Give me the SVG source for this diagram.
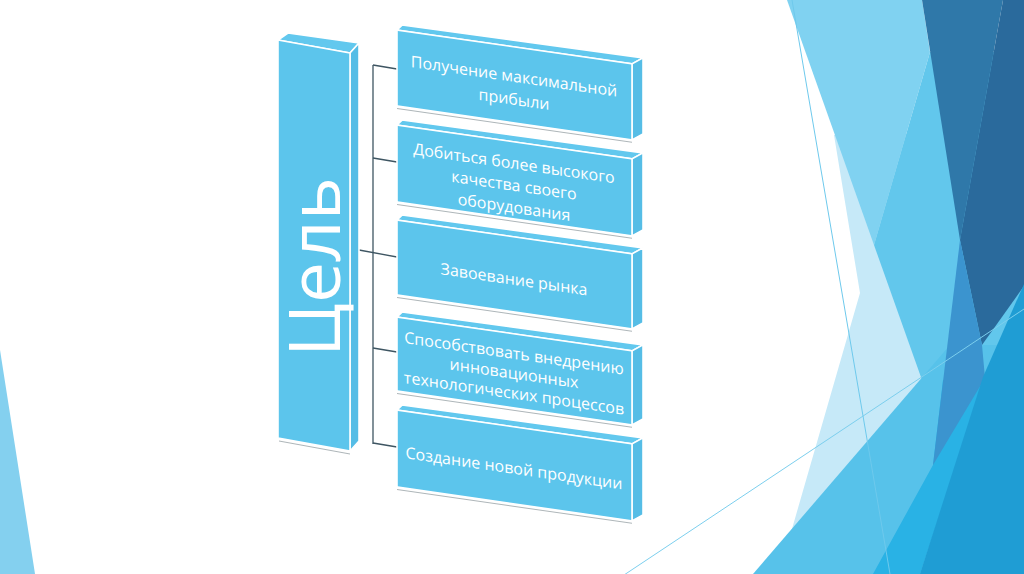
<svg xmlns="http://www.w3.org/2000/svg" width="1024" height="574" viewBox="0 0 1024 574">
<style>
.front{fill:#5cc5ec;stroke:#fff;stroke-width:1.6;stroke-linejoin:round}
.top{fill:#62c8ee;stroke:#fff;stroke-width:1.6;stroke-linejoin:round}
.side{fill:#55bde6;stroke:#fff;stroke-width:1.6;stroke-linejoin:round}
.shadow{stroke:#9aa4a8;stroke-width:1;opacity:0.8}
.lbl{font-family:"Open Sans","Noto Sans",sans-serif;font-size:16px;fill:#fff;text-anchor:middle}
.conn{stroke:#3e5562;stroke-width:1.3;fill:none}
</style>
<rect width="1024" height="574" fill="#fff"/>
<g id="background">
  <polygon points="0,350 35,574 0,574" fill="#84d0ef"/>
  <polygon points="834,135 860,293 779,574 1024,574 1024,135" fill="#c6e9f8"/>
  <polygon points="787,0 922,0 930,52 874,245" fill="#80d2f1"/>
  <polygon points="930,52 874,245 922,380 1024,380 1024,52" fill="#62c7ec"/>
  <polygon points="753,574 950,345 1024,345 1024,574" fill="#57c2ea"/>
  <polygon points="922,0 1003,0 960,240" fill="#2f78a9"/>
  <polygon points="1003,0 1024,0 1024,286 982,345 960,240" fill="#2a6a9c"/>
  <polygon points="873,574 933,465 943,380 985,378 920,574" fill="#29b2e5"/>
  <polygon points="960,240 982,345 985,378 933,465 948,340" fill="#3b94cf"/>
  <polygon points="1024,284 983,377 920,574 1024,574" fill="#1f9dd4"/>
  <line x1="792" y1="0" x2="890" y2="574" stroke="#6ec9ec" stroke-width="1"/>
  <line x1="624" y1="575" x2="1024" y2="309" stroke="#7ccfee" stroke-width="1"/>
</g>
<g id="connectors">
  <line class="conn" x1="373" y1="65" x2="373" y2="444"/>
  <line class="conn" x1="373" y1="65" x2="397" y2="69"/>
  <line class="conn" x1="373" y1="158" x2="397" y2="162"/>
  <line class="conn" x1="359" y1="250" x2="397" y2="257"/>
  <line class="conn" x1="373" y1="348" x2="397" y2="352"/>
  <line class="conn" x1="373" y1="443" x2="397" y2="447"/>
</g>
<g id="goal">
  <polygon class="top" points="278,40 288,33 359,43 350,53"/>
  <polygon class="side" points="350,53 359,43 359,441 350,451"/>
  <polygon class="front" points="278,40 350,53 350,451 278,438"/>
  <line class="shadow" x1="279" y1="441" x2="350" y2="454"/>
  <text transform="translate(340,267) rotate(-90)" x="0" y="0" style="font-family:'Open Sans','Noto Sans',sans-serif;font-size:72px;fill:#fff;text-anchor:middle" textLength="180" lengthAdjust="spacingAndGlyphs">Цель</text>
</g>
<g transform="translate(397,0) skewY(8.2)">
  <g id="box1">
    <polygon class="top" points="0,30 5,24.3 246,22.4 235,30"/>
    <polygon class="side" points="235,30 246,22.4 246,98.4 235,106"/>
    <rect class="front" x="0" y="30" width="235" height="76"/>
    <line class="shadow" x1="0" y1="108.5" x2="235" y2="108.5"/>
    <text class="lbl" x="117" y="65">Получение максимальной</text>
    <text class="lbl" x="117" y="88">прибыли</text>
  </g>
  <g id="box2">
    <polygon class="top" points="0,125 5,119.3 246,117.4 235,125"/>
    <polygon class="side" points="235,125 246,117.4 246,194.4 235,202"/>
    <rect class="front" x="0" y="125" width="235" height="77"/>
    <line class="shadow" x1="0" y1="204.5" x2="235" y2="204.5"/>
    <text class="lbl" x="117" y="152">Добиться более высокого</text>
    <text class="lbl" x="117" y="174">качества своего</text>
    <text class="lbl" x="117" y="196">оборудования</text>
  </g>
  <g id="box3">
    <polygon class="top" points="0,220 5,214.3 246,212.4 235,220"/>
    <polygon class="side" points="235,220 246,212.4 246,287.4 235,295"/>
    <rect class="front" x="0" y="220" width="235" height="75"/>
    <line class="shadow" x1="0" y1="297.5" x2="235" y2="297.5"/>
    <text class="lbl" x="117" y="268">Завоевание рынка</text>
  </g>
  <g id="box4">
    <polygon class="top" points="0,317 5,311.3 246,309.4 235,317"/>
    <polygon class="side" points="235,317 246,309.4 246,383.4 235,391"/>
    <rect class="front" x="0" y="317" width="235" height="74"/>
    <line class="shadow" x1="0" y1="393.5" x2="235" y2="393.5"/>
    <text class="lbl" x="117" y="342">Способствовать внедрению</text>
    <text class="lbl" x="117" y="362">инновационных</text>
    <text class="lbl" x="117" y="382">технологических процессов</text>
  </g>
  <g id="box5">
    <polygon class="top" points="0,410 5,404.3 246,402.4 235,410"/>
    <polygon class="side" points="235,410 246,402.4 246,479.4 235,487"/>
    <rect class="front" x="0" y="410" width="235" height="77"/>
    <line class="shadow" x1="0" y1="489.5" x2="235" y2="489.5"/>
    <text class="lbl" x="117" y="457">Создание новой продукции</text>
  </g>
</g>
</svg>
